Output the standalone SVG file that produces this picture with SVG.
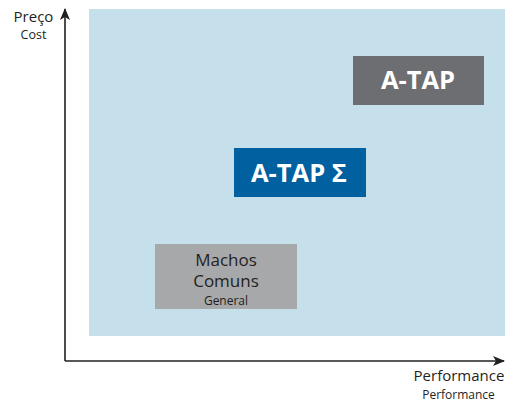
<svg xmlns="http://www.w3.org/2000/svg" width="520" height="402" viewBox="0 0 520 402">
<style>
text{font-family:"Open Sans","Liberation Sans",sans-serif;}
.ax{stroke:#231f20;stroke-width:1.6;fill:none}
.lbl{fill:#231f20;text-anchor:middle}
.w{fill:#fff;font-weight:bold;font-size:25.5px;text-anchor:middle}
</style>
<defs>
<marker id="ah" viewBox="0 0 12 10" refX="11" refY="5" markerWidth="12" markerHeight="10" markerUnits="userSpaceOnUse" orient="auto">
<path d="M0,0 L12,5 L0,10 L3,5 Z" fill="#231f20"/>
</marker>
</defs>
<rect id="background" x="89" y="9" width="416" height="327" fill="#c5dfeb"/>
<g id="connectors">
<path class="ax" d="M65,361 L65,9" marker-end="url(#ah)"/>
<path class="ax" d="M65,361 L504,361" marker-end="url(#ah)"/>
</g>
<g id="y-label">
<text class="lbl" x="33.5" y="22" font-size="15">Preço</text>
<text class="lbl" x="33.5" y="38.5" font-size="12.5">Cost</text>
</g>
<g id="x-label">
<text class="lbl" x="459" y="381" font-size="15">Performance</text>
<text class="lbl" x="458.5" y="398.5" font-size="12">Performance</text>
</g>
<g id="machos">
<rect x="155" y="244" width="142" height="65" fill="#a7a8aa"/>
<text class="lbl" x="226" y="265.5" font-size="17">Machos</text>
<text class="lbl" x="226" y="286.5" font-size="17">Comuns</text>
<text class="lbl" x="226" y="304.5" font-size="12">General</text>
</g>
<g id="atap-sigma">
<rect x="234" y="148" width="132" height="49" fill="#0060a0"/>
<text class="w" x="299" y="182">A-TAP Σ</text>
</g>
<g id="atap">
<rect x="353" y="56" width="131" height="49" fill="#6d6e71"/>
<text class="w" x="418" y="89">A-TAP</text>
</g>
</svg>
